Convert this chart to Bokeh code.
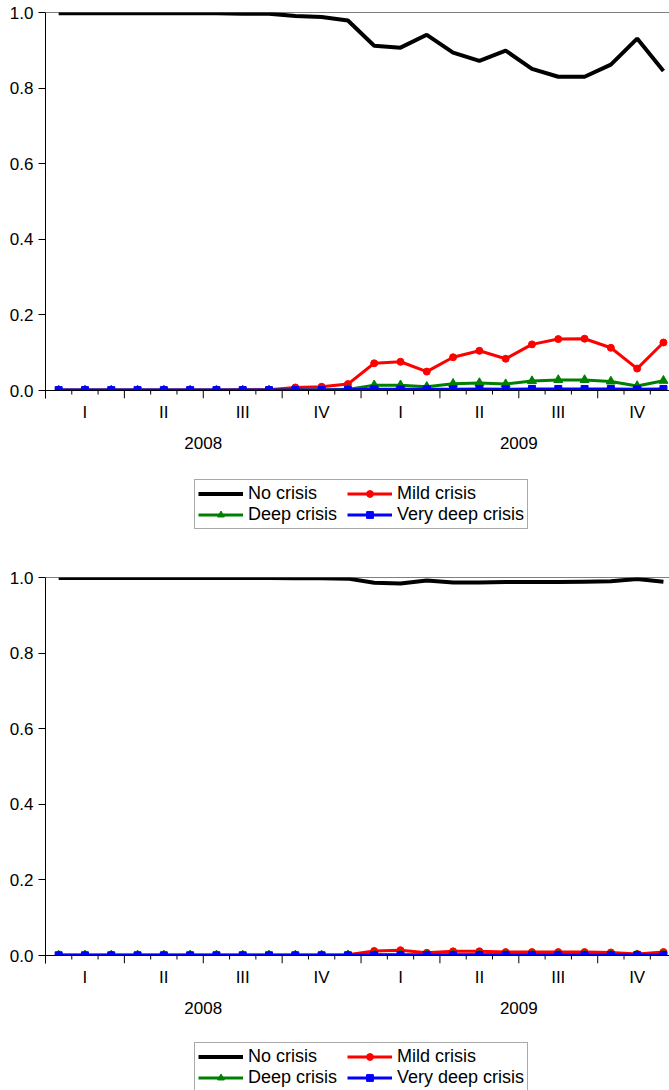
from bokeh.plotting import figure
from bokeh.models import (Range1d, LinearAxis, FixedTicker, Span, Legend, LegendItem,
                          NumeralTickFormatter)
from bokeh.layouts import column
from bokeh.embed import file_html
from bokeh.resources import INLINE

# ---------------- data ----------------
months = list(range(24))  # Jan 2008 .. Dec 2009
quarter_centers = [1, 4, 7, 10, 13, 16, 19, 22]
quarter_labels = ["I", "II", "III", "IV", "I", "II", "III", "IV"]
year_centers = [5.5, 17.5]
year_labels = ["2008", "2009"]
y_ticks = [0.0, 0.2, 0.4, 0.6, 0.8, 1.0]
series_names = ["No crisis", "Mild crisis", "Deep crisis", "Very deep crisis"]

# top panel
no_crisis_1 = [0.998, 0.998, 0.998, 0.998, 0.998, 0.998, 0.998, 0.997, 0.997, 0.991, 0.988, 0.979,
               0.912, 0.907, 0.941, 0.894, 0.872, 0.899, 0.851, 0.830, 0.830, 0.862, 0.931, 0.845]
mild_1 = [0.001, 0.001, 0.001, 0.001, 0.001, 0.001, 0.001, 0.002, 0.002, 0.008, 0.010, 0.017,
          0.072, 0.076, 0.050, 0.088, 0.105, 0.084, 0.122, 0.136, 0.137, 0.113, 0.058, 0.127]
deep_1 = [0.0005, 0.0005, 0.0005, 0.0005, 0.0005, 0.0005, 0.0005, 0.0005, 0.0005, 0.001, 0.001, 0.003,
          0.014, 0.014, 0.010, 0.018, 0.020, 0.017, 0.025, 0.028, 0.028, 0.024, 0.012, 0.026]
very_deep_1 = [0.001, 0.001, 0.001, 0.001, 0.001, 0.001, 0.001, 0.001, 0.001, 0.001, 0.001, 0.002,
               0.003, 0.003, 0.003, 0.003, 0.004, 0.003, 0.004, 0.004, 0.004, 0.004, 0.003, 0.004]

# bottom panel
no_crisis_2 = [0.999, 0.999, 0.999, 0.999, 0.999, 0.999, 0.999, 0.999, 0.999, 0.998, 0.998, 0.997,
               0.986, 0.984, 0.992, 0.987, 0.987, 0.988, 0.988, 0.988, 0.989, 0.990, 0.996, 0.989]
mild_2 = [0.001, 0.001, 0.001, 0.001, 0.001, 0.001, 0.001, 0.001, 0.001, 0.001, 0.001, 0.002,
          0.012, 0.014, 0.007, 0.011, 0.011, 0.009, 0.009, 0.009, 0.009, 0.008, 0.004, 0.009]
deep_2 = [0.0005, 0.0005, 0.0005, 0.0005, 0.0005, 0.0005, 0.0005, 0.0005, 0.0005, 0.0005, 0.0005, 0.001,
          0.002, 0.002, 0.001, 0.002, 0.002, 0.002, 0.002, 0.002, 0.002, 0.002, 0.001, 0.002]
very_deep_2 = [0.0005, 0.0005, 0.0005, 0.0005, 0.0005, 0.0005, 0.0005, 0.0005, 0.0005, 0.0005, 0.0005, 0.0005,
               0.001, 0.001, 0.001, 0.001, 0.001, 0.001, 0.001, 0.001, 0.001, 0.001, 0.001, 0.001]

# ---------------- style ----------------
FONT = "Liberation Sans"
FS = "17px"
LEG_FS = "18px"
PLOT_PX = 378          # pixels spanned by 0..1
LONG_PX, SHORT_PX = 8, 4
TICK_LONG = LONG_PX / PLOT_PX
TICK_SHORT = SHORT_PX / PLOT_PX
X_START, X_END = -0.5, 23.23

STYLES = [
    dict(color="black", width=4, marker=None, size=0),
    dict(color="#FF0000", width=3, marker="circle", size=7),
    dict(color="#008000", width=3, marker="triangle", size=9),
    dict(color="#0000FF", width=3, marker="square", size=7),
]


def base_fig(frame_h, mb_top, mb_bottom, y_range):
    p = figure(frame_width=624, frame_height=frame_h,
               x_range=Range1d(X_START, X_END), y_range=y_range,
               output_backend="svg", toolbar_location=None,
               x_axis_location=None, y_axis_location=None,
               min_border_left=45, min_border_right=0, min_border_top=mb_top,
               min_border_bottom=mb_bottom)
    p.grid.visible = False
    p.outline_line_color = None
    p.background_fill_color = "white"
    p.border_fill_color = "white"
    return p


def label_axis(ticks, labels, standoff):
    ax = LinearAxis(ticker=FixedTicker(ticks=ticks, minor_ticks=[]),
                    major_label_overrides={c: l for c, l in zip(ticks, labels)})
    ax.axis_line_color = None
    ax.major_tick_line_color = None
    ax.minor_tick_line_color = None
    ax.major_tick_out = 0
    ax.major_tick_in = 0
    ax.major_label_standoff = standoff
    ax.major_label_text_font = FONT
    ax.major_label_text_font_size = FS
    ax.major_label_text_color = "black"
    return ax


def draw_series(p, x, ys):
    rends = []
    for y, st in zip(ys, STYLES):
        r = [p.line(x, y, line_color=st["color"], line_width=st["width"])]
        if st["marker"]:
            r.append(p.scatter(x, y, marker=st["marker"], size=st["size"],
                               fill_color=st["color"], line_color=st["color"]))
        rends.append(r)
    return rends


def make_chart(series):
    p = base_fig(PLOT_PX + LONG_PX, 12, 72, Range1d(-TICK_LONG, 1.0))

    yax = LinearAxis(ticker=FixedTicker(ticks=y_ticks, minor_ticks=[]),
                     formatter=NumeralTickFormatter(format="0.0"))
    yax.axis_line_color = "black"
    yax.major_tick_out = 7
    yax.major_tick_in = 0
    yax.minor_tick_line_color = None
    yax.major_label_standoff = 5
    yax.major_label_text_font = FONT
    yax.major_label_text_font_size = FS
    yax.major_label_text_color = "black"
    p.add_layout(yax, "left")

    p.add_layout(label_axis(quarter_centers, quarter_labels, 4), "below")
    p.add_layout(label_axis(year_centers, year_labels, 12), "below")

    draw_series(p, months, series)

    # area below the zero line: mask + month / quarter tick marks
    p.quad(left=[X_START], right=[X_END], bottom=[-TICK_LONG], top=[0.0],
           fill_color="white", line_color=None)
    bounds = [m - 0.5 for m in months] + [months[-1] + 0.5]
    tick_ends = [-TICK_LONG if i % 3 == 0 else -TICK_SHORT for i in range(len(bounds))]
    p.segment(x0=bounds, y0=[0.0] * len(bounds), x1=bounds, y1=tick_ends,
              line_color="black", line_width=1)
    p.add_layout(Span(location=0.0, dimension="width", line_color="black", line_width=1))
    p.add_layout(Span(location=1.0, dimension="width", line_color="black", line_width=1))
    return p


def make_legend(height, loc, series):
    # the series are drawn again but lie outside this strip's y-range; they only
    # provide the legend glyphs
    p = base_fig(height, 0, 0, Range1d(10.0, 11.0))
    rends = draw_series(p, months, series)
    legend = Legend(items=[LegendItem(label=n, renderers=r) for n, r in zip(series_names, rends)],
                    orientation="horizontal", ncols=2, location=loc)
    legend.label_text_font = FONT
    legend.label_text_font_size = LEG_FS
    legend.label_text_color = "black"
    legend.glyph_width = 45
    legend.glyph_height = 17
    legend.label_height = 17
    legend.label_width = 99
    legend.label_standoff = 5
    legend.spacing = 0
    legend.padding = 3
    legend.margin = 0
    legend.border_line_color = "#555555"
    legend.border_line_width = 1
    legend.background_fill_alpha = 1
    p.add_layout(legend)
    return p


s1 = [no_crisis_1, mild_1, deep_1, very_deep_1]
s2 = [no_crisis_2, mild_2, deep_2, very_deep_2]
c1 = make_chart(s1)
l1 = make_legend(95, (149, 36), s1)
c2 = make_chart(s2)
l2 = make_legend(55, (149, -2), s2)

layout = column(c1, l1, c2, l2, spacing=0)
open("out.html", "w").write(file_html(layout, INLINE))
